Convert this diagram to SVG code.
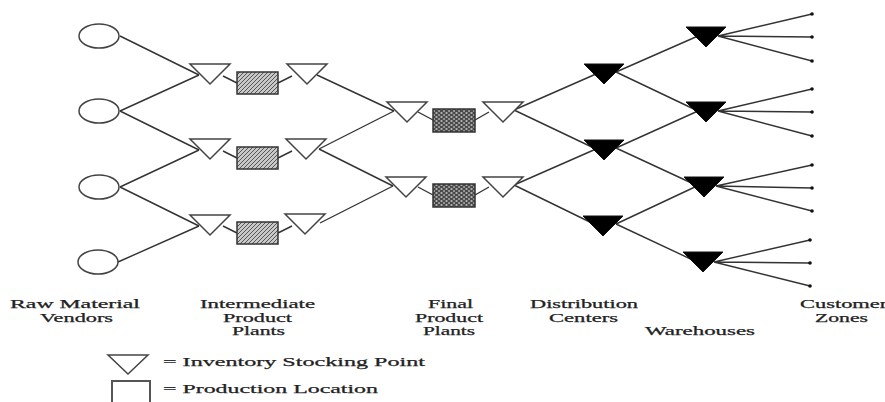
<svg xmlns="http://www.w3.org/2000/svg" width="885" height="402" viewBox="0 0 885 402">
<style>
.ln{stroke:#333;stroke-width:1.4;fill:none}
.cir{fill:#fff;stroke:#444;stroke-width:1.5}
.tri{fill:#fff;stroke:#444;stroke-width:1.5;stroke-linejoin:miter}
.blk{fill:#000;stroke:#111;stroke-width:1}
.hb{fill:url(#hatch);stroke:#333;stroke-width:1.5}
.db{fill:url(#dots);stroke:#333;stroke-width:1.5}
.dot{fill:#111}
text{font-family:"Liberation Serif","Times New Roman",serif;font-size:12px;fill:#222;stroke:#222;stroke-width:0.25;text-anchor:start}
.lg{font-size:13px}
</style>
<defs>
<pattern id="hatch" width="4" height="4" patternUnits="userSpaceOnUse">
<rect width="4" height="4" fill="#c8c8c8"/>
<path d="M-1,1 l2,-2 M0,4 l4,-4 M3,5 l2,-2" stroke="#555" stroke-width="1"/>
</pattern>
<pattern id="dots" width="5" height="4" patternUnits="userSpaceOnUse">
<rect width="5" height="4" fill="#4a4a4a"/>
<ellipse cx="1.5" cy="1" rx="1.2" ry="0.8" fill="#ddd"/>
<ellipse cx="4" cy="3" rx="1.2" ry="0.8" fill="#bbb"/>
</pattern>
</defs>

<g id="connectors">
<path class="ln" d="M120,36 L199,75 M120,111 L199,75 M120,111 L199,150 M120,187 L199,150 M120,187 L199,226 M118,262 L199,226"/>
<path class="ln" d="M223,76 L237,83 M223,151 L237,158 M223,226 L237,233"/>
<path class="ln" d="M278,83 L292,76 M278,158 L292,151 M278,233 L292,226"/>
<path class="ln" d="M317,75 L394,111 M319,149 L394,111 M319,149 L393,186 M320,223 L393,186"/>
<path class="ln" d="M418,112 L433,120 M418,187 L433,195 M475,120 L489,112 M475,195 L489,187"/>
<path class="ln" d="M514,110 L596,74 M514,110 L596,149 M514,185 L596,149 M514,185 L596,225"/>
<path class="ln" d="M616,72 L698,36 M616,72 L698,111 M616,148 L698,111 M616,148 L698,186 M616,224 L697,186 M616,224 L697,262"/>
<path class="ln" d="M718,36 L812,14 M718,36 L812,37 M718,36 L812,61"/>
<path class="ln" d="M718,111 L812,89 M718,111 L812,112 M718,111 L812,136"/>
<path class="ln" d="M716,186 L812,165 M716,186 L812,188 M716,186 L812,211"/>
<path class="ln" d="M714,262 L810,240 M714,262 L810,263 M714,262 L810,286"/>
</g>

<g id="vendor1"><ellipse class="cir" cx="99" cy="36" rx="20" ry="12"/></g>
<g id="vendor2"><ellipse class="cir" cx="99" cy="111" rx="20" ry="12"/></g>
<g id="vendor3"><ellipse class="cir" cx="99" cy="187" rx="20" ry="12"/></g>
<g id="vendor4"><ellipse class="cir" cx="98" cy="262" rx="20" ry="12"/></g>

<g id="ip-in1"><path class="tri" d="M190,64 L230,64 L210,84 Z"/></g>
<g id="ip-in2"><path class="tri" d="M190,139 L230,139 L210,159 Z"/></g>
<g id="ip-in3"><path class="tri" d="M190,215 L230,215 L210,235 Z"/></g>

<g id="ip-plant1"><rect class="hb" x="237" y="72" width="41" height="22"/></g>
<g id="ip-plant2"><rect class="hb" x="237" y="147" width="41" height="22"/></g>
<g id="ip-plant3"><rect class="hb" x="237" y="222" width="41" height="22"/></g>

<g id="ip-out1"><path class="tri" d="M287,64 L327,64 L307,84 Z"/></g>
<g id="ip-out2"><path class="tri" d="M286,139 L326,139 L306,159 Z"/></g>
<g id="ip-out3"><path class="tri" d="M285,214 L325,214 L305,234 Z"/></g>

<g id="fp-in1"><path class="tri" d="M387,102 L427,102 L407,122 Z"/></g>
<g id="fp-in2"><path class="tri" d="M386,177 L426,177 L406,197 Z"/></g>

<g id="fp-plant1"><rect class="db" x="433" y="109" width="42" height="23"/></g>
<g id="fp-plant2"><rect class="db" x="433" y="184" width="42" height="23"/></g>

<g id="fp-out1"><path class="tri" d="M483,102 L523,102 L503,122 Z"/></g>
<g id="fp-out2"><path class="tri" d="M483,177 L523,177 L503,197 Z"/></g>

<g id="dc1"><path class="blk" d="M584,64 L624,64 L604,84 Z"/></g>
<g id="dc2"><path class="blk" d="M584,140 L624,140 L604,160 Z"/></g>
<g id="dc3"><path class="blk" d="M583,216 L623,216 L603,236 Z"/></g>

<g id="wh1"><path class="blk" d="M686,27 L726,27 L706,47 Z"/></g>
<g id="wh2"><path class="blk" d="M686,102 L726,102 L706,122 Z"/></g>
<g id="wh3"><path class="blk" d="M684,177 L724,177 L704,197 Z"/></g>
<g id="wh4"><path class="blk" d="M683,252 L723,252 L703,272 Z"/></g>

<g id="customers">
<circle class="dot" cx="812" cy="14" r="1.8"/>
<circle class="dot" cx="812" cy="37" r="1.8"/>
<circle class="dot" cx="812" cy="61" r="1.8"/>
<circle class="dot" cx="812" cy="89" r="1.8"/>
<circle class="dot" cx="812" cy="112" r="1.8"/>
<circle class="dot" cx="812" cy="136" r="1.8"/>
<circle class="dot" cx="812" cy="165" r="1.8"/>
<circle class="dot" cx="812" cy="188" r="1.8"/>
<circle class="dot" cx="812" cy="211" r="1.8"/>
<circle class="dot" cx="810" cy="240" r="1.8"/>
<circle class="dot" cx="810" cy="263" r="1.8"/>
<circle class="dot" cx="810" cy="286" r="1.8"/>
</g>

<g id="labels">
<text x="10" y="308" textLength="130" lengthAdjust="spacingAndGlyphs">Raw Material</text>
<text x="40" y="322" textLength="73" lengthAdjust="spacingAndGlyphs">Vendors</text>
<text x="200" y="308" textLength="115" lengthAdjust="spacingAndGlyphs">Intermediate</text>
<text x="223" y="321.5" textLength="69" lengthAdjust="spacingAndGlyphs">Product</text>
<text x="232" y="335" textLength="53" lengthAdjust="spacingAndGlyphs">Plants</text>
<text x="428" y="308" textLength="45" lengthAdjust="spacingAndGlyphs">Final</text>
<text x="415" y="321.5" textLength="68" lengthAdjust="spacingAndGlyphs">Product</text>
<text x="423" y="335" textLength="52" lengthAdjust="spacingAndGlyphs">Plants</text>
<text x="530" y="308" textLength="108" lengthAdjust="spacingAndGlyphs">Distribution</text>
<text x="549" y="322" textLength="69" lengthAdjust="spacingAndGlyphs">Centers</text>
<text x="645" y="335" textLength="110" lengthAdjust="spacingAndGlyphs">Warehouses</text>
<text x="800" y="308" textLength="96" lengthAdjust="spacingAndGlyphs">Customers</text>
<text x="815" y="322" textLength="53" lengthAdjust="spacingAndGlyphs">Zones</text>
</g>

<g id="legend">
<path class="tri" d="M108,355 L148,355 L128,374 Z"/>
<text class="lg" x="163" y="366" textLength="262" lengthAdjust="spacingAndGlyphs">= Inventory Stocking Point</text>
<rect x="112" y="381" width="38" height="30" fill="#fff" stroke="#555" stroke-width="2"/>
<text class="lg" x="163" y="393" textLength="215" lengthAdjust="spacingAndGlyphs">= Production Location</text>
</g>
</svg>
